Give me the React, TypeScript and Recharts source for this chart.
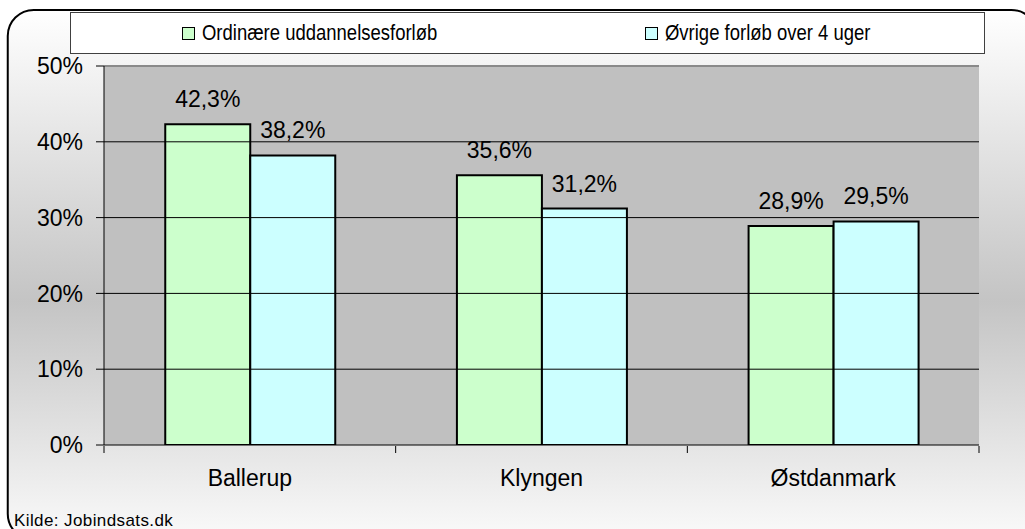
import { BarChart, Bar, XAxis, YAxis, CartesianGrid, LabelList, ReferenceLine, ReferenceArea } from 'recharts';

const categories = ['Ballerup', 'Klyngen', 'Østdanmark'];
const ordinaere = [42.3, 35.6, 28.9];
const oevrige = [38.2, 31.2, 29.5];
const seriesNames = ['Ordinære uddannelsesforløb', 'Øvrige forløb over 4 uger'];
const seriesColors = ['#CCFFCC', '#CCFFFF'];
const yTicks = [0, 10, 20, 30, 40, 50];
const edgeTicks = [0, 1, 2, 3];

const data = categories.map((name, i) => ({ name, a: ordinaere[i], b: oevrige[i], pos: i + 0.5 }));

const fmt = (v: number) => `${v.toFixed(1).replace('.', ',')}%`;
const font = '"Liberation Sans", Arial, sans-serif';

export default function App() {
  return (
    <div
      style={{
        position: 'fixed',
        left: 0,
        top: 0,
        width: 1025,
        height: 529,
        overflow: 'hidden',
        fontFamily: font,
        backgroundColor: '#ffffff',
      }}
    >
      <div
        style={{
          position: 'absolute',
          left: 8,
          top: 10,
          width: 1030,
          height: 530,
          boxSizing: 'border-box',
          border: '2px solid #000',
          borderRadius: 26,
        }}
      />
      <div style={{ position: 'absolute', left: 0, top: 0 }}>
        <BarChart
          width={1025}
          height={529}
          data={data}
          margin={{ top: 66, right: 46, bottom: 82, left: 44 }}
          barCategoryGap="21%"
          barGap={0}
        >
          <defs>
            <linearGradient id="frameBg" x1="0" y1="0" x2="0" y2="1">
              <stop offset="0%" stopColor="#ffffff" />
              <stop offset="55%" stopColor="#c4c4c4" />
              <stop offset="100%" stopColor="#fafafa" />
            </linearGradient>
          </defs>
          {/* frame behind the whole chart, reaching past the plot area */}
          <ReferenceArea
            xAxisId="edges"
            x1={-0.33}
            x2={3.2}
            y1={-12.5}
            y2={57.4}
            ifOverflow="visible"
            fill="url(#frameBg)"
            fillOpacity={1}
            stroke="#000"
            strokeWidth={2}
            radius={26}
          />
          <ReferenceArea
            xAxisId="edges"
            x1={0}
            x2={3}
            y1={0}
            y2={50}
            fill="#c0c0c0"
            fillOpacity={1}
            stroke="none"
          />
          <CartesianGrid vertical={false} stroke="#000" xAxisId="cat" />
          {yTicks.slice(1, -1).map((t) => (
            <ReferenceLine key={t} y={t} xAxisId="cat" stroke="#000" />
          ))}
          <XAxis
            xAxisId="cat"
            dataKey="name"
            height={1}
            tickSize={0}
            tickMargin={25}
            axisLine={{ stroke: '#000' }}
            tickLine={false}
            tick={{ fontSize: 23, fill: '#000', fontFamily: font }}
          />
          <XAxis
            xAxisId="edges"
            dataKey="pos"
            type="number"
            domain={[0, 3]}
            allowDataOverflow
            ticks={edgeTicks}
            interval={0}
            height={1}
            tickSize={7}
            axisLine={false}
            tick={() => <g />}
            tickLine={{ stroke: '#000' }}
          />
          <YAxis
            domain={[0, 50]}
            allowDataOverflow
            ticks={yTicks}
            width={60}
            tickSize={8}
            tickMargin={13}
            axisLine={{ stroke: '#000' }}
            tickLine={{ stroke: '#000' }}
            tickFormatter={(v) => `${v}%`}
            tick={{ fontSize: 23, fill: '#000', fontFamily: font }}
          />
          <YAxis
            yAxisId="r"
            orientation="right"
            domain={[0, 50]}
            width={0}
            tick={false}
            tickLine={false}
            axisLine={{ stroke: '#8a8a8a', strokeWidth: 2 }}
          />
          <ReferenceLine y={50} xAxisId="cat" stroke="#8a8a8a" strokeWidth={2} />
          <Bar dataKey="a" xAxisId="cat" fill={seriesColors[0]} stroke="#000" strokeWidth={2} isAnimationActive={false}>
            <LabelList dataKey="a" position="top" offset={17} formatter={(v: any) => fmt(Number(v))} style={{ fontSize: 23, fill: '#000', fontFamily: font }} />
          </Bar>
          <Bar dataKey="b" xAxisId="cat" fill={seriesColors[1]} stroke="#000" strokeWidth={2} isAnimationActive={false}>
            <LabelList dataKey="b" position="top" offset={17} formatter={(v: any) => fmt(Number(v))} style={{ fontSize: 23, fill: '#000', fontFamily: font }} />
          </Bar>
        </BarChart>
      </div>
      <div
        style={{
          position: 'absolute',
          left: 70,
          top: 12,
          width: 915,
          height: 42,
          boxSizing: 'border-box',
          border: '1px solid #404040',
          backgroundColor: '#fff',
          display: 'flex',
        }}
      >
        {seriesNames.map((n, i) => (
          <div
            key={n}
            style={{ flex: 1, display: 'flex', alignItems: 'center', paddingLeft: i === 0 ? 111 : 123, whiteSpace: 'nowrap' }}
          >
            <span
              style={{
                display: 'inline-block',
                width: 11,
                height: 11,
                border: '1.5px solid #000',
                backgroundColor: seriesColors[i],
                marginRight: 7,
              }}
            />
            <span
              style={{
                display: 'inline-block',
                fontSize: 22,
                color: '#000',
                transform: 'scaleX(0.84)',
                transformOrigin: 'left center',
              }}
            >
              {n}
            </span>
          </div>
        ))}
      </div>
      <div style={{ position: 'absolute', left: 14, top: 511, fontSize: 17, letterSpacing: 0.4, color: '#000' }}>
        Kilde: Jobindsats.dk
      </div>
    </div>
  );
}
